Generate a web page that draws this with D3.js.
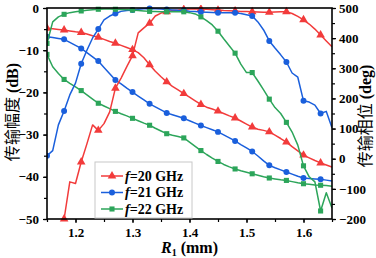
<!DOCTYPE html>
<html>
<head>
<meta charset="utf-8">
<script src="https://cdn.jsdelivr.net/npm/d3@7"></script>
<style>
  body { margin: 0; background: #fff; }
  svg { display: block; }
</style>
</head>
<body>
<div id="vis"></div>
<script>
// R1 (mm) sampled every 0.01
const rValues = [1.15,1.16,1.17,1.18,1.19,1.20,1.21,1.22,1.23,1.24,1.25,1.26,1.27,1.28,1.29,1.30,
  1.31,1.32,1.33,1.34,1.35,1.36,1.37,1.38,1.39,1.40,1.41,1.42,1.43,1.44,1.45,1.46,1.47,1.48,1.49,1.50,
  1.51,1.52,1.53,1.54,1.55,1.56,1.57,1.58,1.59,1.60,1.61,1.62,1.63,1.64,1.65];

// transmission amplitude (dB), left axis
const amp20 = [null,null,null,-50,-41.2,-41.6,-36.5,-32.2,-27.7,-29.0,-27.4,-24.6,-19.0,-16.6,-13.9,-11.3,
  -5.9,-4.7,-3.6,-1.9,-1.2,-0.9,-0.6,-0.5,-0.35,-0.25,-0.2,-0.25,-0.3,-0.4,-0.5,-0.6,-0.65,-0.7,-0.8,-0.85,
  -0.9,-0.95,-1.0,-1.0,-0.95,-0.9,-0.9,-1.3,-2.0,-2.8,-3.8,-5.0,-6.4,-7.8,-9.2];
const amp21 = [-35.0,-33.8,-27.7,-24.4,-20.6,-17.8,-13.2,-10.0,-7.1,-5.0,-2.8,-1.9,-1.3,-0.8,-0.6,-0.5,
  -0.3,-0.15,-0.1,-0.15,-0.25,-0.35,-0.45,-0.55,-0.6,-0.75,-0.85,-0.95,-1.0,-1.05,-1.1,-1.1,-1.1,-1.1,-1.3,-1.6,
  -1.9,-3.3,-5.2,-7.8,-9.5,-11.1,-12.8,-15.4,-16.4,-22.0,-22.3,-23.0,-25.0,-24.5,-28.4];
const amp22 = [-8.4,-3.3,-2.1,-1.5,-1.1,-0.9,-0.7,-0.55,-0.4,-0.3,-0.25,-0.25,-0.3,-0.35,-0.4,-0.5,
  -0.6,-0.7,-0.8,-0.85,-0.9,-0.9,-0.9,-0.9,-0.9,-1.1,-1.4,-2.1,-3.0,-4.0,-5.5,-7.3,-9.0,-10.7,-13.3,-15.3,
  -15.3,-17.3,-19.4,-21.6,-23.6,-25.0,-27.1,-29.4,-32.5,-37.4,-40.0,-41.2,-48.1,-43.8,-47.4];

// transmission phase (deg), right axis
const phase20 = [433,431,429,427,424,421,419,414,408,403,396,389,383,376,369,362,
  352,335,312,290,272,255,240,228,216,204,192,180,171,165,158,150,142,135,125,115,
  105,98,94,89,78,67,55,40,26,12,3,-6,-14,-21,-28];
const phase21 = [405,402,399,396,386,376,366,352,338,324,303,282,261,248,234,221,
  208,195,182,172,162,152,146,140,134,126,118,110,103,96,89,79,69,59,47,36,
  24,9,-7,-22,-30,-37,-44,-51,-58,-64,-66,-67,-68,-71,-74];
const phase22 = [346,305,283,263,250,238,226,212,198,184,175,166,157,149,142,134,
  126,118,111,101,92,83,78,74,69,55,41,27,14,2,-9,-19,-27,-34,-40,-45,
  -50,-55,-60,-64,-67,-70,-72,-76,-80,-83,-85,-87,-88,-89,-91];

const xTicks = [1.2, 1.3, 1.4, 1.5, 1.6];
const ampTicks = [0, -10, -20, -30, -40, -50];
const phaseTicks = [500, 400, 300, 200, 100, 0, -100, -200];
const legendLabels = ["20", "21", "22"];

const colors = ["#f23b3b", "#1a5fdc", "#2ca55a"];
const symbols = [d3.symbolTriangle, d3.symbolCircle, d3.symbolSquare];
const symbolSizes = [32, 28, 26];

const width = 376, height = 258;
const plot = { left: 47, right: 332, top: 8, bottom: 219 };
const serif = "'Liberation Serif', 'Times New Roman', serif";
const cjk = "'Noto Sans CJK SC', sans-serif";

const svg = d3.select("#vis").append("svg")
  .attr("width", width)
  .attr("height", height);

const x = d3.scaleLinear().domain([1.15, 1.65]).range([plot.left, plot.right]);
const yAmp = d3.scaleLinear().domain([-50, 0]).range([plot.bottom, plot.top]);
const yPhase = d3.scaleLinear().domain([-200, 500]).range([plot.bottom, plot.top]);

// ---- axes ----
function styleAxis(g) {
  g.select(".domain").remove();
  g.selectAll("line").attr("stroke", "#000").attr("stroke-width", 1.2);
  g.selectAll("text")
    .attr("font-family", serif)
    .attr("font-weight", "bold")
    .attr("font-size", "13px")
    .attr("fill", "#000");
}

// minor ticks first (no labels)
svg.append("g")
  .attr("transform", `translate(0,${plot.bottom})`)
  .call(d3.axisBottom(x).tickValues(d3.range(1.15, 1.66, 0.05)).tickSize(3).tickFormat(""))
  .call(styleAxis);
svg.append("g")
  .attr("transform", `translate(${plot.left},0)`)
  .call(d3.axisLeft(yAmp).tickValues(d3.range(-50, 1, 5)).tickSize(3).tickFormat(""))
  .call(styleAxis);
svg.append("g")
  .attr("transform", `translate(${plot.right},0)`)
  .call(d3.axisRight(yPhase).tickValues(d3.range(-200, 501, 50)).tickSize(3).tickFormat(""))
  .call(styleAxis);

svg.append("g")
  .attr("transform", `translate(0,${plot.bottom})`)
  .call(d3.axisBottom(x).tickValues(xTicks).tickSize(4).tickPadding(5).tickFormat(d3.format(".1f")))
  .call(styleAxis);
svg.append("g")
  .attr("transform", `translate(${plot.left},0)`)
  .call(d3.axisLeft(yAmp).tickValues(ampTicks).tickSize(4).tickPadding(4))
  .call(styleAxis);
svg.append("g")
  .attr("transform", `translate(${plot.right},0)`)
  .call(d3.axisRight(yPhase).tickValues(phaseTicks).tickSize(4).tickPadding(3))
  .call(styleAxis);

// ---- curves ----
svg.append("clipPath").attr("id", "clip")
  .append("rect")
  .attr("x", plot.left).attr("y", plot.top - 3)
  .attr("width", plot.right - plot.left).attr("height", plot.bottom - plot.top + 6);

const plotG = svg.append("g").attr("clip-path", "url(#clip)");

function drawSeries(values, yScale, i) {
  const pts = rValues.map((r, k) => ({ r, v: values[k], k })).filter(d => d.v !== null);
  const line = d3.line().x(d => x(d.r)).y(d => yScale(d.v));
  plotG.append("path")
    .datum(pts)
    .attr("fill", "none")
    .attr("stroke", colors[i])
    .attr("stroke-width", 1.5)
    .attr("stroke-linejoin", "round")
    .attr("d", line);
  plotG.selectAll(null)
    .data(pts.filter(d => d.k % 3 === 0))
    .enter().append("path")
    .attr("transform", d => `translate(${x(d.r)},${yScale(d.v)})`)
    .attr("d", d3.symbol().type(symbols[i]).size(symbolSizes[i]))
    .attr("fill", colors[i]);
}

[phase20, phase21, phase22].forEach((s, i) => drawSeries(s, yPhase, i));
[amp20, amp21, amp22].forEach((s, i) => drawSeries(s, yAmp, i));

// ---- frame ----
svg.append("rect")
  .attr("x", plot.left).attr("y", plot.top)
  .attr("width", plot.right - plot.left).attr("height", plot.bottom - plot.top)
  .attr("fill", "none")
  .attr("stroke", "#000")
  .attr("stroke-width", 1.6);

// ---- axis titles ----
const leftTitle = svg.append("text")
  .attr("transform", "translate(18,112) rotate(-90)")
  .attr("text-anchor", "middle")
  .attr("font-size", "16px")
  .attr("fill", "#000");
leftTitle.append("tspan").attr("font-family", cjk).text("传输幅度");
leftTitle.append("tspan").attr("font-family", serif).attr("font-weight", "bold").text(" (dB)");

const rightTitle = svg.append("text")
  .attr("transform", "translate(371,116) rotate(-90)")
  .attr("text-anchor", "middle")
  .attr("font-size", "16px")
  .attr("fill", "#000");
rightTitle.append("tspan").attr("font-family", cjk).text("传输相位");
rightTitle.append("tspan").attr("font-family", serif).attr("font-weight", "bold").text(" (deg)");

const bottomTitle = svg.append("text")
  .attr("x", (plot.left + plot.right) / 2)
  .attr("y", 253)
  .attr("text-anchor", "middle")
  .attr("font-family", serif)
  .attr("font-weight", "bold")
  .attr("font-size", "16px")
  .attr("fill", "#000");
bottomTitle.append("tspan").attr("font-style", "italic").text("R");
bottomTitle.append("tspan").attr("font-size", "10px").attr("dy", 3).text("1");
bottomTitle.append("tspan").attr("dy", -3).text(" (mm)");

// ---- legend ----
const legend = svg.append("g");
legend.append("rect")
  .attr("x", 95).attr("y", 162)
  .attr("width", 97).attr("height", 56)
  .attr("fill", "#fff")
  .attr("stroke", "#c8c8c8")
  .attr("stroke-width", 1);

legendLabels.forEach((lab, i) => {
  const cy = 176 + i * 16.5;
  legend.append("line")
    .attr("x1", 101).attr("x2", 123)
    .attr("y1", cy).attr("y2", cy)
    .attr("stroke", colors[i])
    .attr("stroke-width", 1.5);
  legend.append("path")
    .attr("transform", `translate(112,${cy})`)
    .attr("d", d3.symbol().type(symbols[i]).size(symbolSizes[i]))
    .attr("fill", colors[i]);
  const t = legend.append("text")
    .attr("x", 125).attr("y", cy + 4.5)
    .attr("font-family", serif)
    .attr("font-weight", "bold")
    .attr("font-size", "14px")
    .attr("fill", "#000");
  t.append("tspan").attr("font-style", "italic").text("f");
  t.append("tspan").text(`=${lab} GHz`);
});
</script>
</body>
</html>
